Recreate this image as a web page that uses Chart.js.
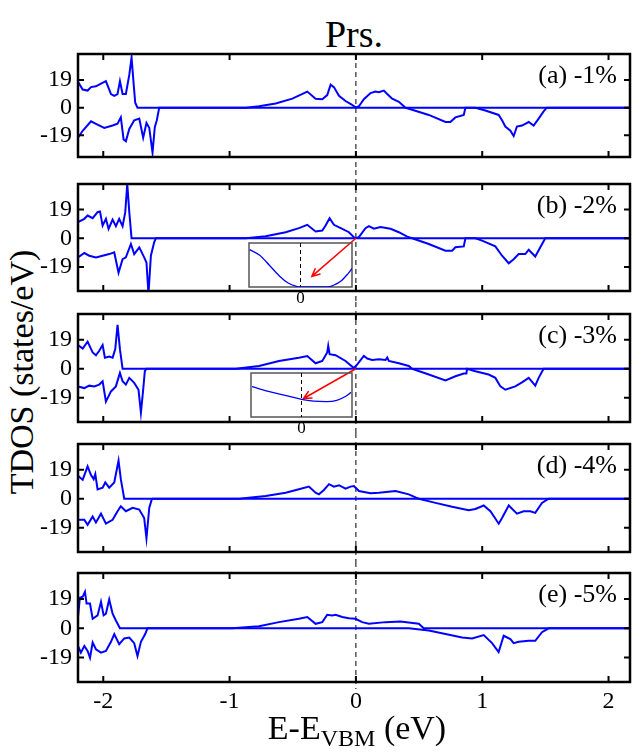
<!DOCTYPE html>
<html>
<head>
<meta charset="utf-8">
<script src="https://cdn.jsdelivr.net/npm/chart.js"></script>
<style>
  body { margin: 0; background: #fff; }
  #fig { position: relative; width: 633px; height: 752px; background: #fff; overflow: hidden;
         font-family: 'Liberation Serif', 'Times New Roman', serif; color: #000; }
  #fig canvas { position: absolute; left: 0; }
  .txt { position: absolute; white-space: nowrap; }
  #title { left: 78px; width: 552px; top: 12px; text-align: center; font-size: 38px; line-height: 44px; }
  #ylab { left: 22px; top: 372px; font-size: 34px; transform: translate(-50%, -50%) rotate(-90deg); }
  #xlab { left: 357px; top: 730px; font-size: 34px; transform: translate(-50%, -50%); }
  #xlab sub { font-size: 24px; vertical-align: -7px; }
</style>
</head>
<body>
<div id="fig">
  <div class="txt" id="title">Prs.</div>
  <div class="txt" id="ylab">TDOS (states/eV)</div>
  <canvas id="pa" width="633" height="130" style="top:40px"></canvas>
  <canvas id="pb" width="633" height="132" style="top:170px"></canvas>
  <canvas id="pc" width="633" height="131" style="top:302px"></canvas>
  <canvas id="pd" width="633" height="129" style="top:433px"></canvas>
  <canvas id="pe" width="633" height="152" style="top:562px"></canvas>
  <canvas id="ib" width="105" height="64" style="left:248px;top:242px"></canvas>
  <canvas id="ic" width="103" height="64" style="left:250px;top:372px"></canvas>
  <div class="txt" id="xlab">E-E<sub>VBM</sub> (eV)</div>
</div>
<script>
// axis ticks
const xTicks = [-2, -1, 0, 1, 2];
const yTicks = [-19, 0, 19];
const panelLabels = ['(a) -1%', '(b) -2%', '(c) -3%', '(d) -4%', '(e) -5%'];

// (a) -1%
const energyUpA = [-2.2, -2.163, -2.124, -2.097, -2.058, -2.018, -1.979, -1.966, -1.939, -1.913, -1.887, -1.868, -1.847, -1.821, -1.794, -1.776, -1.763, -1.747, -1.729, -0.87, -0.767, -0.635, -0.503, -0.385, -0.319, -0.266, -0.227, -0.2, -0.174, -0.134, -0.082, -0.04, 0, 0.024, 0.063, 0.116, 0.155, 0.182, 0.221, 0.248, 0.287, 0.34, 0.393, 2.2];
const tdosUpA = [17.8, 12.5, 11.8, 14.2, 14.7, 16.6, 18.3, 15.4, 9.4, 8.2, 9.4, 18.3, 9.4, 9.4, 22.6, 34.6, 20.2, 3.4, 0, 0, 1.0, 2.9, 6.2, 11.1, 6.2, 5.8, 8.7, 15.9, 14.2, 8.2, 4.6, 2.5, 0, 1.0, 5.8, 10.1, 11.1, 10.6, 11.8, 9.4, 6.2, 4.1, 0, 0];
const energyDnA = [-2.2, -2.163, -2.097, -2.058, -1.992, -1.926, -1.887, -1.861, -1.839, -1.821, -1.794, -1.755, -1.715, -1.684, -1.658, -1.636, -1.61, -1.592, -1.576, -1.557, 0.393, 0.445, 0.577, 0.709, 0.748, 0.788, 0.854, 0.867, 0.946, 1.025, 1.13, 1.157, 1.183, 1.223, 1.249, 1.275, 1.315, 1.368, 1.407, 1.447, 1.486, 1.512, 2.2];
const tdosDnA = [-20.7, -15.9, -9.4, -11.1, -13.9, -12.3, -11.1, -6.7, -21.9, -23.1, -14.7, -8.7, -7.5, -20.7, -10.6, -13.9, -31, -13.5, -8.7, 0, 0, -1.4, -5, -9.9, -9.9, -6.7, -5, 0, 0, -1.9, -5, -8.7, -13, -15.9, -19.5, -13, -12.3, -9.9, -12.3, -7.5, -2.6, 0, 0];

// (b) -2%
const energyUpB = [-2.2, -2.15, -2.124, -2.084, -2.045, -2.026, -2.005, -1.979, -1.958, -1.926, -1.9, -1.874, -1.847, -1.826, -1.81, -1.794, -1.776, -0.87, -0.714, -0.556, -0.451, -0.385, -0.319, -0.266, -0.24, -0.208, -0.174, -0.108, -0.055, -0.008, 0.024, 0.076, 0.103, 0.142, 0.195, 0.274, 0.34, 0.406, 0.445, 2.2];
const tdosUpB = [10.7, 12.9, 15.1, 13.3, 17.3, 17.8, 8.4, 12.9, 6.2, 12.4, 8.0, 12.9, 8.0, 17.3, 36, 17.3, 0, 0, 1.3, 4, 6.7, 8.9, 4.5, 5.1, 8.4, 13.3, 8.9, 6.2, 4, 0, 0.7, 6.7, 8, 6.3, 7.4, 6.3, 4, 1.1, 0, 0];
const energyDnB = [-2.2, -2.15, -2.111, -2.058, -2.005, -1.953, -1.913, -1.879, -1.847, -1.821, -1.781, -1.755, -1.715, -1.676, -1.658, -1.642, -1.623, -1.597, -1.584, 0.445, 0.577, 0.709, 0.762, 0.788, 0.854, 0.867, 0.946, 0.999, 1.104, 1.157, 1.21, 1.249, 1.289, 1.341, 1.368, 1.42, 1.46, 1.499, 2.2];
const tdosDnB = [-12.7, -9.8, -11.6, -12.7, -11.6, -10.5, -9.4, -22.8, -13.9, -12.7, -3.8, -10.5, -6, -12.7, -16.1, -37, -11.6, -2.7, 0, 0, -3.8, -8.3, -8.3, -6, -5.4, 0, 0, -1.6, -5.4, -11.6, -16.6, -13.9, -10.5, -10.5, -7.6, -12.1, -6, 0, 0];

// (c) -3%
const energyUpC = [-2.2, -2.163, -2.124, -2.084, -2.058, -2.032, -2.005, -1.987, -1.953, -1.926, -1.905, -1.887, -1.868, -1.847, -0.95, -0.767, -0.609, -0.451, -0.385, -0.319, -0.266, -0.227, -0.219, -0.208, -0.161, -0.082, -0.016, 0.011, 0.063, 0.09, 0.129, 0.182, 0.235, 0.248, 0.261, 0.34, 0.419, 0.445, 2.2];
const tdosUpC = [15.6, 13.3, 17.8, 10.7, 8.9, 11.8, 15.6, 7.3, 8, 7.3, 12.9, 28.9, 12.9, 0, 0, 1.8, 5.1, 7.3, 8.4, 3.6, 5.1, 10.7, 15.1, 9.6, 8.9, 5.1, 0.5, 2.9, 8.4, 6.7, 5.8, 6.2, 5.8, 7.4, 5.1, 3.6, 1.8, 0, 0];
const energyDnC = [-2.2, -2.15, -2.111, -2.071, -2.032, -2.005, -1.979, -1.939, -1.9, -1.868, -1.847, -1.821, -1.794, -1.755, -1.721, -1.702, -1.684, -1.671, -1.658, 0.445, 0.577, 0.709, 0.788, 0.854, 0.875, 0.88, 0.946, 1.051, 1.104, 1.144, 1.183, 1.262, 1.315, 1.368, 1.42, 1.447, 1.486, 2.2];
const tdosDnC = [-11.6, -12.7, -11.1, -11.6, -10.4, -8.2, -21.6, -14.9, -11.6, -2.7, -8.2, -10.4, -6, -9.3, -13.8, -28.9, -13.8, -1.6, 0, 0, -3.8, -7.6, -4.9, -3.1, -3.1, 0, -1.6, -3.8, -6, -11.6, -13.8, -11.6, -8.9, -6, -11.1, -6, 0, 0];

// (d) -4%
const energyUpD = [-2.2, -2.163, -2.124, -2.097, -2.076, -2.063, -2.045, -2.005, -1.984, -1.953, -1.913, -1.879, -1.861, -1.834, -0.925, -0.714, -0.556, -0.451, -0.372, -0.319, -0.293, -0.253, -0.213, -0.174, -0.134, -0.082, -0.042, -0.016, 0.024, 0.116, 0.182, 0.314, 0.419, 0.477, 0.498, 2.2];
const tdosUpD = [15.1, 12.4, 21.3, 15.6, 12.9, 16.2, 6.2, 7.3, 10.7, 7.3, 10.7, 25.1, 12.9, 0, 0, 1.8, 4, 6.2, 8, 4, 2.9, 5.8, 9.6, 8, 8.9, 6.7, 8, 8.4, 5.1, 3.6, 4, 5.1, 2.9, 0.7, 0, 0];
const energyDnD = [-2.2, -2.15, -2.124, -2.084, -2.058, -2.018, -1.979, -1.926, -1.887, -1.861, -1.821, -1.768, -1.715, -1.676, -1.658, -1.636, -1.616, -1.61, 0.498, 0.63, 0.762, 0.893, 0.946, 1.012, 1.065, 1.131, 1.157, 1.21, 1.275, 1.328, 1.381, 1.42, 1.473, 1.526, 2.2];
const tdosDnD = [-13.8, -13.8, -17.1, -11.6, -15.6, -9.8, -16.4, -13.8, -8.2, -4.9, -8.2, -6, -7.1, -12.7, -26, -6, -0.4, 0, 0, -2.7, -5.3, -7.6, -6.7, -4.4, -8.2, -16.4, -12.7, -4.4, -9.8, -8.2, -8.2, -9.3, -2.7, 0, 0];

// (e) -5%
const energyUpE = [-2.2, -2.185, -2.163, -2.145, -2.132, -2.105, -2.084, -2.045, -2.018, -1.997, -1.979, -1.953, -1.926, -1.9, -1.868, -0.978, -0.767, -0.609, -0.451, -0.385, -0.319, -0.266, -0.227, -0.187, -0.161, -0.108, -0.055, -0.003, 0.05, 0.103, 0.235, 0.353, 0.498, 0.537, 2.2];
const tdosUpE = [7.3, 19.9, 20.5, 23.8, 16.1, 16.1, 6.2, 8.4, 17.2, 8.4, 9.5, 18.8, 9.5, 5.1, 0, 0, 1.3, 4, 6.2, 7.3, 2.9, 4, 8.8, 8.4, 8.8, 7.3, 6.6, 6.2, 4, 2.9, 4, 4.4, 2.9, 0, 0];
const energyDnE = [-2.2, -2.177, -2.15, -2.124, -2.105, -2.084, -2.058, -2.018, -1.979, -1.939, -1.913, -1.874, -1.834, -1.794, -1.755, -1.729, -1.702, -1.668, -1.65, 0.419, 0.577, 0.709, 0.841, 0.92, 1.012, 1.078, 1.13, 1.17, 1.223, 1.249, 1.289, 1.368, 1.42, 1.473, 1.526, 2.2];
const tdosDnE = [-11.5, -15.9, -11.5, -14.8, -19.2, -9.3, -13.7, -15.9, -14.8, -8.8, -3.8, -10.4, -6.6, -6, -9.7, -18.1, -8.8, -3.8, 0, 0, -1.5, -3.8, -6, -6.6, -4.4, -9.7, -15.5, -4.9, -7.1, -9.7, -8.8, -8.2, -8.2, -2.6, 0, 0];

// insets (zoom around E = 0, arbitrary units)
const insetEnergyB = [-0.986, -0.792, -0.6, -0.4, -0.24, -0.08, 0, 0.52, 0.64, 0.8, 0.92, 1];
const insetTdosB = [0.85, 0.72, 0.49, 0.24, 0.09, 0.015, 0, 0, 0.04, 0.15, 0.3, 0.42];
const insetEnergyC = [-0.98, -0.68, -0.28, 0, 0.24, 0.5, 0.7, 0.86, 0.98];
const insetTdosC = [0.69, 0.59, 0.48, 0.4, 0.36, 0.35, 0.38, 0.46, 0.56];
const arrowTargetB = [0.22, 0.24];
const arrowTargetC = [0.04, 0.42];

const FONT = "'Liberation Serif', 'Times New Roman', serif";
const BLUE = '#0000ff';

function pts(xs, ys) {
    return xs.map((x, i) => ({ x: x, y: ys[i] }));
}

const insetDeco = {
    id: 'insetDeco',
    beforeDatasetsDraw(chart) {
        const { ctx, chartArea: a, scales: { x } } = chart;
        ctx.save();
        ctx.strokeStyle = '#555';
        ctx.lineWidth = 1.5;
        ctx.strokeRect(a.left, a.top, a.width, a.height);
        ctx.strokeStyle = '#000';
        ctx.lineWidth = 1;
        ctx.setLineDash([4, 3]);
        ctx.beginPath();
        ctx.moveTo(x.getPixelForValue(0), a.top);
        ctx.lineTo(x.getPixelForValue(0), a.bottom);
        ctx.stroke();
        ctx.restore();
    }
};

function makeInset(id, xs, ys) {
    return new Chart(document.getElementById(id), {
        type: 'line',
        data: { datasets: [{ data: pts(xs, ys), borderColor: BLUE, borderWidth: 1.3, pointRadius: 0, cubicInterpolationMode: 'monotone' }] },
        options: {
            responsive: false,
            animation: false,
            events: [],
            layout: { padding: { left: 1, right: 1, top: 1, bottom: 0 } },
            plugins: { legend: { display: false }, tooltip: { enabled: false } },
            scales: {
                x: {
                    type: 'linear', min: -1, max: 1,
                    afterBuildTicks: s => { s.ticks = [{ value: 0 }]; },
                    afterFit: s => { s.height = 19; s.paddingLeft = 0; s.paddingRight = 0; },
                    grid: { display: false, drawTicks: false },
                    border: { display: false },
                    ticks: { font: { family: FONT, size: 17 }, color: '#000', padding: 1 }
                },
                y: { display: false, min: 0, max: 1 }
            }
        },
        plugins: [insetDeco]
    });
}

const insetB = makeInset('ib', insetEnergyB, insetTdosB);
const insetC = makeInset('ic', insetEnergyC, insetTdosC);

function panelDeco(p) {
    return {
        id: 'panelDeco',
        beforeDatasetsDraw(chart) {
            const { ctx, chartArea: a, scales: { x } } = chart;
            const px = x.getPixelForValue(0);
            ctx.save();
            ctx.strokeStyle = '#000';
            ctx.lineWidth = 1;
            ctx.setLineDash([5, 4]);
            ctx.beginPath();
            ctx.moveTo(px, p.first ? a.top : 0);
            ctx.lineTo(px, p.last ? a.bottom + 7 : chart.height);
            ctx.stroke();
            ctx.restore();
        },
        afterDatasetsDraw(chart) {
            const { ctx, chartArea: a, scales: { x, y } } = chart;
            ctx.save();
            // frame with inward ticks
            ctx.strokeStyle = '#000';
            ctx.lineWidth = 2.5;
            ctx.strokeRect(a.left, a.top, a.width, a.height);
            ctx.lineWidth = 2;
            ctx.beginPath();
            xTicks.forEach(v => {
                const tx = x.getPixelForValue(v);
                ctx.moveTo(tx, a.top); ctx.lineTo(tx, a.top + 6);
                ctx.moveTo(tx, a.bottom); ctx.lineTo(tx, a.bottom - 6);
            });
            yTicks.forEach(v => {
                const ty = y.getPixelForValue(v);
                ctx.moveTo(a.left, ty); ctx.lineTo(a.left + 6, ty);
                ctx.moveTo(a.right, ty); ctx.lineTo(a.right - 6, ty);
            });
            ctx.stroke();

            // panel label
            ctx.fillStyle = '#000';
            ctx.font = '26px ' + FONT;
            ctx.textAlign = 'right';
            ctx.textBaseline = 'alphabetic';
            ctx.fillText(p.label, a.right - 13, a.top + 29);

            // red arrow into the inset
            if (p.inset) {
                const sx = x.getPixelForValue(0), sy = y.getPixelForValue(0);
                const ex = p.inset.scales.x.getPixelForValue(p.target[0]) + p.insetLeft;
                const ey = p.inset.scales.y.getPixelForValue(p.target[1]) + p.insetTop - p.top;
                const ang = Math.atan2(ey - sy, ex - sx);
                ctx.strokeStyle = '#ff0000';
                ctx.lineWidth = 1.5;
                ctx.beginPath();
                ctx.moveTo(sx, sy); ctx.lineTo(ex, ey);
                ctx.moveTo(ex - 9 * Math.cos(ang - 0.45), ey - 9 * Math.sin(ang - 0.45));
                ctx.lineTo(ex, ey);
                ctx.lineTo(ex - 9 * Math.cos(ang + 0.45), ey - 9 * Math.sin(ang + 0.45));
                ctx.stroke();
            }
            ctx.restore();
        }
    };
}

const panels = [
    { id: 'pa', top: 40, padTop: 14, padBottom: 13, yMin: -34, yMax: 37, up: [energyUpA, tdosUpA], dn: [energyDnA, tdosDnA], first: true },
    { id: 'pb', top: 170, padTop: 14, padBottom: 11, yMin: -35, yMax: 36, up: [energyUpB, tdosUpB], dn: [energyDnB, tdosDnB], inset: insetB, insetLeft: 248, insetTop: 242, target: arrowTargetB },
    { id: 'pc', top: 302, padTop: 12, padBottom: 11, yMin: -35, yMax: 36, up: [energyUpC, tdosUpC], dn: [energyDnC, tdosDnC], inset: insetC, insetLeft: 250, insetTop: 372, target: arrowTargetC },
    { id: 'pd', top: 433, padTop: 11, padBottom: 10, yMin: -35, yMax: 36, up: [energyUpD, tdosUpD], dn: [energyDnD, tdosDnD] },
    { id: 'pe', top: 562, padTop: 11, padBottom: 0, yMin: -35, yMax: 36, up: [energyUpE, tdosUpE], dn: [energyDnE, tdosDnE], last: true }
];

panels.forEach((p, i) => {
    p.label = panelLabels[i];
    const line = { borderColor: BLUE, borderWidth: 2, pointRadius: 0, tension: 0, fill: false };
    new Chart(document.getElementById(p.id), {
        type: 'line',
        data: {
            datasets: [
                Object.assign({ label: 'spin up', data: pts(p.up[0], p.up[1]) }, line),
                Object.assign({ label: 'spin down', data: pts(p.dn[0], p.dn[1]) }, line)
            ]
        },
        options: {
            responsive: false,
            animation: false,
            events: [],
            layout: { autoPadding: false, padding: { left: 0, right: 3, top: p.padTop, bottom: p.padBottom } },
            plugins: { legend: { display: false }, tooltip: { enabled: false } },
            scales: {
                x: {
                    type: 'linear', min: -2.2, max: 2.17,
                    display: !!p.last,
                    afterBuildTicks: s => { s.ticks = xTicks.map(v => ({ value: v })); },
                    afterFit: s => { s.height = p.last ? 32 : 0; s.paddingLeft = 0; s.paddingRight = 0; },
                    grid: { display: false, drawTicks: false },
                    border: { display: false },
                    ticks: { font: { family: FONT, size: 24 }, color: '#000', padding: 5 }
                },
                y: {
                    min: p.yMin, max: p.yMax,
                    afterBuildTicks: s => { s.ticks = yTicks.map(v => ({ value: v })); },
                    afterFit: s => { s.width = 78; s.paddingTop = 0; s.paddingBottom = 0; },
                    grid: { display: false, drawTicks: false },
                    border: { display: false },
                    ticks: { font: { family: FONT, size: 24 }, color: '#000', padding: 6 }
                }
            }
        },
        plugins: [panelDeco(p)]
    });
});
</script>
</body>
</html>
